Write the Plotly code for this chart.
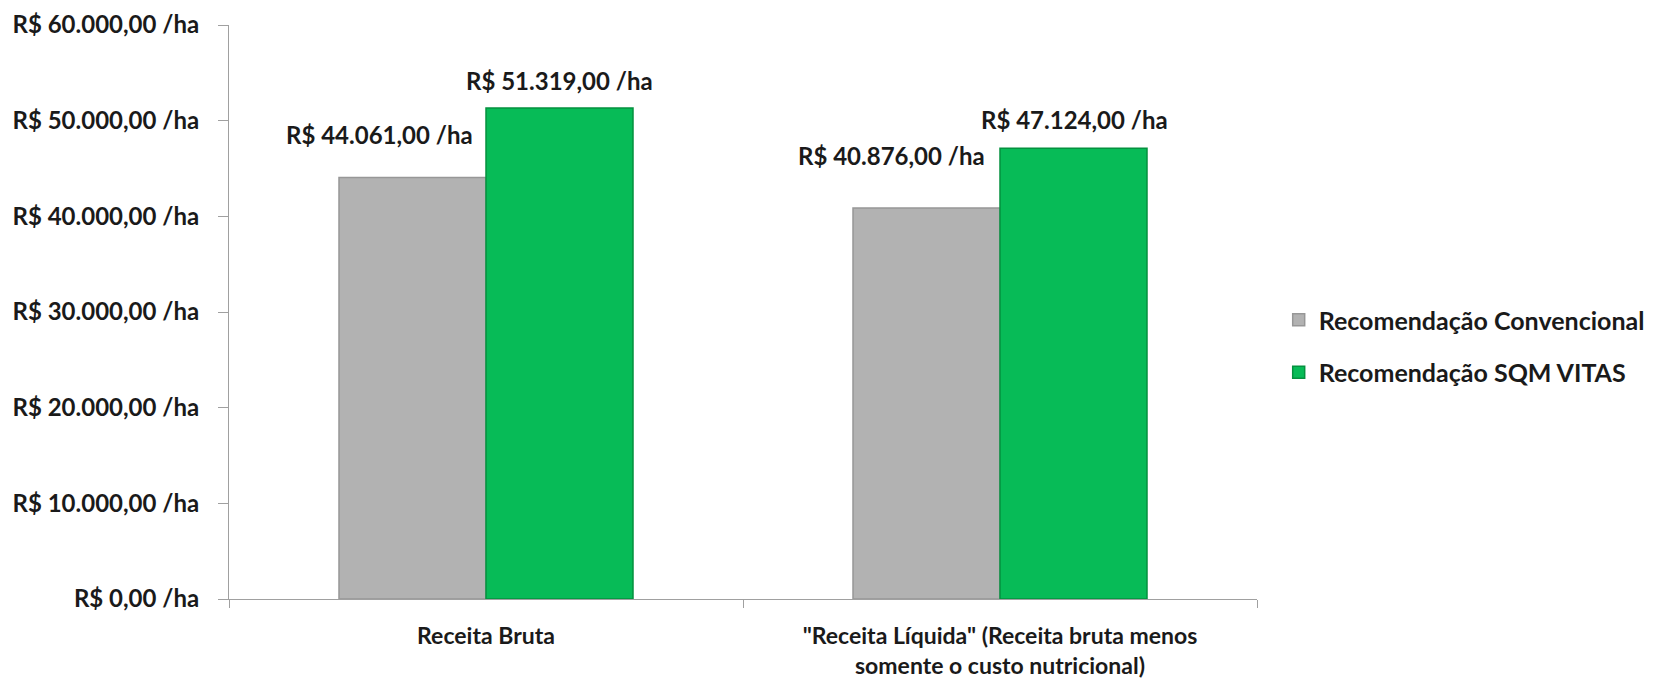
import plotly.graph_objects as go

categories = ["Receita Bruta", "\"Receita Líquida\" (Receita bruta menos<br>somente o custo nutricional)"]
series_names = ["Recomendação Convencional", "Recomendação SQM VITAS"]
conv_values = [44061, 40876]
sqm_values = [51319, 47124]
conv_labels = ["R$ 44.061,00 /ha", "R$ 40.876,00 /ha"]
sqm_labels = ["R$ 51.319,00 /ha", "R$ 47.124,00 /ha"]
tick_vals = [0, 10000, 20000, 30000, 40000, 50000, 60000]
tick_text = ["R$ 0,00 /ha", "R$ 10.000,00 /ha", "R$ 20.000,00 /ha", "R$ 30.000,00 /ha",
             "R$ 40.000,00 /ha", "R$ 50.000,00 /ha", "R$ 60.000,00 /ha"]

FONT = "Lato"
font = dict(family=FONT, size=24, color="#1a1a1a", weight="bold")
xfont = dict(family=FONT, size=23, color="#1a1a1a", weight="bold")
lfont = dict(family=FONT, size=25, color="#1a1a1a", weight="bold")

fig = go.Figure()
fig.add_trace(go.Bar(x=categories, y=conv_values, name=series_names[0], legendgroup="a",
                     marker=dict(color="#B2B2B2", line=dict(color="#979797", width=1.5))))
fig.add_trace(go.Bar(x=categories, y=sqm_values, name=series_names[1], legendgroup="b",
                     marker=dict(color="#07BB57", line=dict(color="#05913F", width=1.5))))

# label offsets (pixels) relative to category center / bar top
conv_shift = [(-107, 43), (-109, 52)]
sqm_shift = [(73, 28), (74, 29)]
for i, c in enumerate(categories):
    fig.add_annotation(x=c, y=conv_values[i], text=conv_labels[i], showarrow=False,
                       xshift=conv_shift[i][0], yshift=conv_shift[i][1], font=font)
    fig.add_annotation(x=c, y=sqm_values[i], text=sqm_labels[i], showarrow=False,
                       xshift=sqm_shift[i][0], yshift=sqm_shift[i][1], font=font)

fig.update_layout(
    width=1653, height=678,
    margin=dict(l=221, r=404, t=17, b=87, autoexpand=False),
    paper_bgcolor="white", plot_bgcolor="white",
    barmode="group", bargap=0.428, bargroupgap=0,
    font=font,
    showlegend=True,
    legend=dict(x=1.382, y=0.4406, xanchor="right", yanchor="middle",
                font=lfont, traceorder="grouped", tracegroupgap=17, itemwidth=30),
)
fig.update_yaxes(range=[0, 60000], tickvals=tick_vals, ticktext=tick_text,
                 showgrid=False, showline=True, linecolor="#A0A0A0", linewidth=1,
                 ticks="outside", ticklen=10, tickcolor="#A0A0A0", zeroline=False,
                 tickfont=font, ticklabelstandoff=14, automargin=False)
fig.update_xaxes(showgrid=False, showline=True, linecolor="#A0A0A0", linewidth=1,
                 ticks="outside", ticklen=8, tickcolor="#A0A0A0", tickson="boundaries",
                 tickfont=xfont, ticklabelstandoff=16, automargin=False)

fig.write_html("out.html")
